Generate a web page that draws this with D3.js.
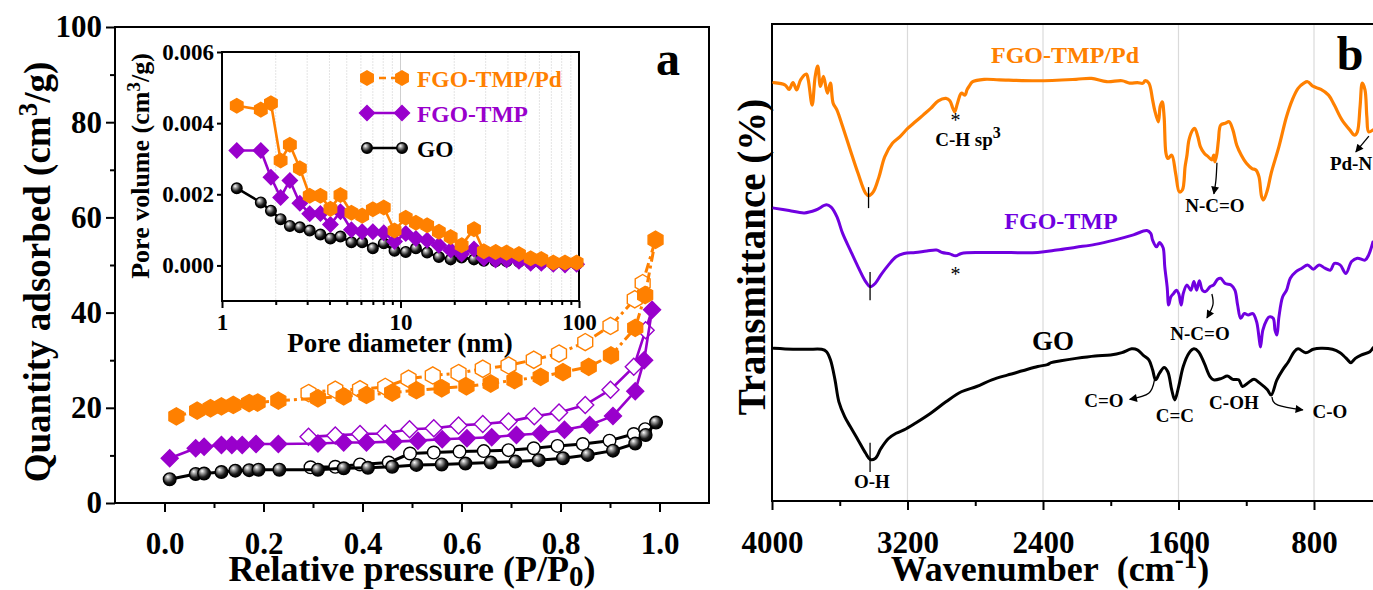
<!DOCTYPE html>
<html>
<head>
<meta charset="utf-8">
<title>FGO-TMP/Pd: N2 isotherms and FTIR spectra</title>
<script src="https://cdn.jsdelivr.net/npm/d3@7/dist/d3.min.js"></script>
<style>
  html, body { margin: 0; padding: 0; background: #fff; }
  svg text { font-family: "Liberation Serif", "Times New Roman", serif; font-weight: bold; }
</style>
</head>
<body>
<svg id="fig" width="1373" height="590"></svg>
<script>
// ---------------- (a) N2 adsorption-desorption isotherms ----------------
const pressureTicks = [0.0, 0.2, 0.4, 0.6, 0.8, 1.0];
const pressureMinorTicks = [0.1, 0.3, 0.5, 0.7, 0.9];
const quantityTicks = [0, 20, 40, 60, 80, 100];
const quantityMinorTicks = [10, 30, 50, 70, 90];

const adsPdP = [0.024, 0.066, 0.093, 0.115, 0.139, 0.171, 0.188, 0.230, 0.310, 0.362, 0.408, 0.460, 0.509, 0.560, 0.610, 0.659, 0.707, 0.760, 0.805, 0.857, 0.902, 0.951, 0.971, 0.992];
const adsPdQ = [18.2, 19.4, 19.9, 20.3, 20.6, 21.0, 21.1, 21.5, 22.0, 22.4, 22.7, 23.2, 23.7, 24.1, 24.5, 25.1, 25.8, 26.5, 27.5, 28.6, 31.0, 36.8, 43.7, 55.3];
const desPdP = [0.291, 0.345, 0.395, 0.446, 0.493, 0.542, 0.594, 0.643, 0.695, 0.746, 0.797, 0.850, 0.901, 0.950, 0.966];
const desPdQ = [23.1, 23.8, 23.9, 24.4, 26.1, 26.8, 27.3, 28.2, 28.9, 30.1, 31.4, 33.8, 37.2, 42.8, 46.2];

const adsTmpP = [0.0105, 0.063, 0.080, 0.115, 0.136, 0.157, 0.185, 0.230, 0.310, 0.362, 0.408, 0.463, 0.512, 0.561, 0.611, 0.661, 0.711, 0.760, 0.808, 0.859, 0.906, 0.951, 0.969, 0.985];
const adsTmpQ = [9.4, 11.5, 11.8, 12.2, 12.2, 12.2, 12.4, 12.4, 12.5, 12.7, 12.7, 12.9, 13.1, 13.4, 13.6, 13.8, 14.3, 14.6, 15.4, 16.4, 18.3, 23.5, 30.0, 40.6];
const desTmpP = [0.291, 0.345, 0.395, 0.446, 0.495, 0.544, 0.594, 0.643, 0.695, 0.747, 0.797, 0.850, 0.901, 0.948, 0.972];
const desTmpQ = [13.9, 14.2, 14.5, 14.6, 15.5, 15.7, 16.3, 16.6, 17.1, 18.2, 19.0, 20.6, 23.8, 28.6, 36.3];

const adsGoP = [0.0105, 0.063, 0.080, 0.115, 0.143, 0.171, 0.190, 0.232, 0.310, 0.362, 0.411, 0.460, 0.509, 0.560, 0.608, 0.659, 0.709, 0.756, 0.805, 0.855, 0.906, 0.951, 0.972, 0.993];
const adsGoQ = [5.0, 6.1, 6.2, 6.5, 6.8, 6.9, 7.0, 7.0, 7.0, 7.3, 7.4, 7.6, 8.0, 8.1, 8.3, 8.5, 8.7, 9.0, 9.4, 10.1, 11.0, 12.5, 14.3, 16.9];
const desGoP = [0.295, 0.345, 0.395, 0.453, 0.496, 0.544, 0.596, 0.645, 0.695, 0.746, 0.794, 0.845, 0.899, 0.948, 0.971];
const desGoQ = [7.5, 7.6, 8.1, 8.5, 10.4, 10.6, 10.8, 10.9, 11.1, 11.5, 12.0, 12.4, 13.1, 14.5, 15.5];

// ---------------- inset: pore size distribution ----------------
const poreDiameter = [1.21, 1.65, 1.88, 2.13, 2.40, 2.73, 3.10, 3.56, 4.05, 4.61, 5.31, 6.10, 7.00, 8.06, 9.26, 10.7, 12.2, 14.1, 16.4, 19.1, 22.0, 25.8, 29.3, 34.1, 39.3, 46.1, 53.6, 61.5, 71.8, 83.5, 97.0];
const poreVolPd = [0.00449, 0.00438, 0.00456, 0.00295, 0.00339, 0.00273, 0.00196, 0.00196, 0.00159, 0.00198, 0.00148, 0.00140, 0.00158, 0.00163, 0.00098, 0.00134, 0.00120, 0.00113, 0.00095, 0.00080, 0.00057, 0.00102, 0.00040, 0.00038, 0.00036, 0.00032, 0.00020, 0.00018, 0.00008, 0.00008, 0.00008];
const poreVolTmp = [0.00323, 0.00323, 0.00248, 0.00191, 0.00239, 0.00175, 0.00145, 0.00146, 0.00115, 0.00151, 0.00100, 0.00095, 0.00095, 0.00092, 0.00067, 0.00090, 0.00076, 0.00071, 0.00057, 0.00043, 0.00032, 0.00046, 0.00020, 0.00015, 0.00015, 0.00012, 0.00006, 0.00006, 0.00003, 0.00001, 0.00003];
const poreVolGo = [0.00217, 0.00177, 0.00154, 0.00130, 0.00111, 0.00107, 0.00098, 0.00087, 0.00076, 0.00081, 0.00065, 0.00065, 0.00048, 0.00062, 0.00041, 0.00038, 0.00048, 0.00036, 0.00024, 0.00017, 0.00022, 0.00017, 0.00013, 0.00012, 0.00012, 0.00010, 0.00006, 0.00006, 0.00003, 0.00003, 0.00003];
const poreVolTicks = [0.000, 0.002, 0.004, 0.006];
const poreDiamTicks = [1, 10, 100];
const poreDiamMinorTicks = [2, 3, 4, 5, 6, 7, 8, 9, 20, 30, 40, 50, 60, 70, 80, 90];
const seriesNames = ["FGO-TMP/Pd", "FGO-TMP", "GO"];

// ---------------- (b) FTIR spectra ----------------
const wavenumberTicks = [4000, 3200, 2400, 1600, 800];
const wavenumberMinorTicks = [3600, 2800, 2000, 1200];

const pdWave = [3989, 3922, 3899, 3876, 3854, 3831, 3797, 3786, 3763, 3745, 3730, 3714, 3696, 3673, 3655, 3639, 3617, 3583, 3538, 3492, 3447, 3429, 3402, 3368, 3334, 3289, 3244, 3199, 3154, 3108, 3063, 3018, 2973, 2950, 2932, 2921, 2905, 2882, 2860, 2849, 2837, 2815, 2747, 2657, 2431, 2205, 2114, 2024, 1934, 1888, 1843, 1809, 1798, 1775, 1753, 1741, 1719, 1708, 1696, 1685, 1674, 1663, 1640, 1617, 1595, 1577, 1561, 1550, 1538, 1516, 1504, 1486, 1471, 1448, 1425, 1403, 1392, 1385, 1373, 1364, 1351, 1324, 1301, 1279, 1256, 1229, 1199, 1166, 1143, 1125, 1109, 1098, 1075, 1053, 1007, 962, 928, 894, 860, 838, 804, 759, 714, 680, 635, 589, 560, 544, 528, 515, 499, 488, 477, 452];
const pdTrans = [87.7, 87.2, 86.3, 87.7, 86.2, 88.3, 89.5, 88.3, 83.0, 89.0, 91.2, 86.9, 89.0, 85.5, 87.6, 83.4, 82.0, 78.5, 73.6, 68.7, 64.5, 64.0, 64.8, 68.0, 72.2, 75.0, 76.4, 78.1, 79.5, 80.9, 82.3, 83.9, 84.4, 83.9, 82.3, 81.6, 83.4, 85.5, 85.1, 86.2, 86.9, 87.9, 88.4, 88.3, 88.1, 88.4, 88.6, 87.9, 88.1, 87.6, 87.7, 87.6, 88.1, 87.6, 84.1, 82.0, 79.5, 82.7, 83.7, 80.6, 72.9, 71.8, 72.5, 68.7, 64.8, 65.2, 70.1, 72.5, 75.7, 77.8, 78.1, 76.4, 74.3, 72.9, 72.2, 71.5, 72.5, 71.1, 72.9, 75.7, 78.8, 79.2, 79.5, 77.8, 74.6, 72.5, 70.8, 69.7, 69.4, 68.0, 63.8, 63.1, 65.2, 68.7, 74.3, 80.6, 84.1, 86.5, 87.6, 87.9, 86.9, 86.3, 85.1, 83.0, 79.9, 77.8, 76.7, 77.4, 82.7, 87.6, 86.2, 80.6, 77.4, 77.8];

const tmpWave = [3989, 3899, 3809, 3741, 3678, 3651, 3617, 3583, 3538, 3492, 3447, 3420, 3391, 3357, 3312, 3267, 3221, 3154, 3086, 3029, 2995, 2950, 2916, 2882, 2770, 2657, 2431, 2318, 2205, 2092, 1979, 1866, 1787, 1764, 1753, 1730, 1712, 1703, 1690, 1681, 1667, 1658, 1645, 1629, 1613, 1599, 1584, 1572, 1550, 1527, 1509, 1493, 1477, 1459, 1441, 1414, 1392, 1369, 1351, 1324, 1290, 1267, 1251, 1233, 1211, 1188, 1161, 1139, 1125, 1116, 1102, 1080, 1064, 1041, 1030, 1019, 1007, 985, 962, 940, 906, 872, 838, 804, 770, 736, 703, 680, 646, 612, 578, 544, 499, 477, 452];
const tmpTrans = [61.4, 60.9, 60.4, 61.0, 62.1, 61.6, 59.6, 56.1, 52.6, 49.1, 46.0, 44.9, 45.6, 47.4, 49.5, 51.2, 51.9, 52.1, 52.4, 52.6, 52.1, 51.8, 51.4, 51.9, 52.1, 52.1, 52.1, 52.6, 53.2, 53.8, 54.7, 55.8, 56.7, 56.1, 54.7, 53.3, 54.2, 53.9, 53.0, 49.1, 44.9, 41.1, 42.8, 43.5, 44.2, 43.5, 41.1, 43.5, 45.3, 44.2, 46.0, 44.2, 46.2, 44.2, 43.9, 44.9, 45.3, 46.5, 46.7, 45.6, 45.3, 44.2, 41.1, 38.3, 39.3, 39.0, 39.3, 37.6, 34.4, 32.3, 35.8, 37.9, 38.6, 38.3, 35.8, 34.8, 38.6, 42.8, 44.2, 46.7, 48.1, 48.8, 49.5, 48.6, 49.5, 48.8, 48.4, 49.8, 49.5, 47.7, 50.2, 50.9, 50.5, 51.6, 54.3];

const goWave = [3989, 3876, 3786, 3707, 3678, 3655, 3628, 3605, 3571, 3538, 3492, 3447, 3420, 3391, 3357, 3312, 3267, 3221, 3154, 3063, 2973, 2882, 2792, 2702, 2611, 2521, 2431, 2374, 2352, 2295, 2205, 2092, 2001, 1934, 1877, 1843, 1809, 1775, 1753, 1735, 1712, 1685, 1663, 1640, 1622, 1599, 1572, 1538, 1509, 1482, 1448, 1414, 1392, 1346, 1312, 1279, 1245, 1222, 1188, 1154, 1120, 1075, 1053, 1019, 985, 951, 917, 894, 849, 804, 759, 691, 646, 624, 601, 583, 556, 522, 470, 452];
const goTrans = [32.0, 31.8, 31.8, 31.8, 31.3, 29.6, 25.4, 20.8, 17.7, 15.6, 12.8, 10.0, 8.7, 8.9, 11.0, 13.1, 14.2, 14.9, 16.3, 18.4, 20.8, 22.9, 24.0, 25.4, 26.4, 27.3, 28.2, 28.6, 29.0, 29.4, 29.9, 30.4, 30.6, 31.1, 31.9, 31.7, 30.6, 29.6, 27.5, 25.4, 26.8, 28.0, 27.1, 23.3, 21.2, 24.0, 28.2, 31.0, 31.9, 31.3, 28.9, 26.1, 25.4, 25.7, 26.2, 25.5, 25.4, 24.0, 24.8, 25.5, 24.7, 23.3, 22.2, 25.4, 27.5, 29.2, 31.3, 31.9, 31.1, 31.8, 32.0, 31.8, 31.1, 30.4, 29.6, 29.0, 29.9, 30.6, 31.3, 32.1];

// ---------------- drawing ----------------
const svg = d3.select("#fig");
const COL = { pd: "#ff8000", tmp: "#9900cc", tmpIR: "#7000e0", go: "#000000" };
const defs = svg.append("defs");

const ball = defs.append("radialGradient").attr("id", "ball")
  .attr("cx", "40%").attr("cy", "38%").attr("r", "62%").attr("fx", "34%").attr("fy", "30%");
ball.append("stop").attr("offset", "0%").attr("stop-color", "#ffffff");
ball.append("stop").attr("offset", "28%").attr("stop-color", "#a0a0a0");
ball.append("stop").attr("offset", "70%").attr("stop-color", "#1c1c1c");
ball.append("stop").attr("offset", "100%").attr("stop-color", "#000000");

defs.append("marker").attr("id", "arrowHead")
  .attr("viewBox", "0 0 10 10").attr("refX", 9).attr("refY", 5)
  .attr("markerUnits", "userSpaceOnUse").attr("markerWidth", 11).attr("markerHeight", 8)
  .attr("orient", "auto")
  .append("path").attr("d", "M0,0L10,5L0,10Z").attr("fill", "#000");

const hexPath = r => d3.line()(d3.range(6).map(i => {
  const a = Math.PI / 180 * (60 * i - 90);
  return [r * Math.cos(a), r * Math.sin(a)];
})) + "Z";
const diamondPath = r => `M0,${-r}L${r},0L0,${r}L${-r},0Z`;

function markerShape(sel, kind, size, filled, color) {
  if (kind === "hex") {
    sel.append("path").attr("d", hexPath(size))
      .attr("fill", filled ? color : "#fff").attr("stroke", color).attr("stroke-width", 1.4);
  } else if (kind === "diamond") {
    sel.append("path").attr("d", diamondPath(size))
      .attr("fill", filled ? color : "#fff").attr("stroke", color).attr("stroke-width", 1.4);
  } else {
    sel.append("circle").attr("r", size)
      .attr("fill", filled ? "url(#ball)" : "#fff").attr("stroke", "#000").attr("stroke-width", 1.4);
  }
}

function drawSeries(g, xs, ys, opt) {
  const pts = xs.map((x, i) => [opt.x(x), opt.y(ys[i])]);
  const linePts = opt.extra ? pts.concat([opt.extra]) : pts;
  g.append("path").attr("d", d3.line()(linePts))
    .attr("fill", "none").attr("stroke", opt.color).attr("stroke-width", opt.lw)
    .attr("stroke-dasharray", opt.dash || null).attr("stroke-linejoin", "round");
  g.selectAll(null).data(pts).enter().append("g")
    .attr("transform", d => `translate(${d[0]},${d[1]})`)
    .each(function () { markerShape(d3.select(this), opt.kind, opt.size, opt.filled, opt.color); });
}

function styleAxis(g, size) {
  g.select(".domain").remove();
  g.selectAll(".tick line").attr("stroke", "#000").attr("stroke-width", 2);
  g.selectAll(".tick text").attr("fill", "#000").attr("font-size", size);
}

// ===== panel (a) =====
const xP = d3.scaleLinear().domain([-0.1, 1.1]).range([115, 709]);
const yQ = d3.scaleLinear().domain([0, 100]).range([503, 27]);
const gA = svg.append("g");

gA.append("g").attr("transform", `translate(0,${yQ(0)})`)
  .call(d3.axisBottom(xP).tickValues(pressureMinorTicks).tickSize(5).tickFormat(""))
  .call(g => styleAxis(g, 30));
gA.append("g").attr("transform", `translate(0,${yQ(0)})`)
  .call(d3.axisBottom(xP).tickValues(pressureTicks).tickSize(9).tickPadding(20).tickFormat(d3.format(".1f")))
  .call(g => styleAxis(g, 31));
gA.append("g").attr("transform", `translate(${xP(-0.1)},0)`)
  .call(d3.axisLeft(yQ).tickValues(quantityMinorTicks).tickSize(5).tickFormat(""))
  .call(g => styleAxis(g, 30));
gA.append("g").attr("transform", `translate(${xP(-0.1)},0)`)
  .call(d3.axisLeft(yQ).tickValues(quantityTicks).tickSize(9).tickPadding(4))
  .call(g => styleAxis(g, 31));
gA.append("rect").attr("x", xP(-0.1)).attr("y", yQ(100))
  .attr("width", xP(1.1) - xP(-0.1)).attr("height", yQ(0) - yQ(100))
  .attr("fill", "none").attr("stroke", "#000").attr("stroke-width", 2);

// isotherm branches: desorption (open) under adsorption (filled)
const isoSets = [
  { ap: adsGoP, aq: adsGoQ, dp: desGoP, dq: desGoQ, color: COL.go, kind: "ball", size: 6.3, lw: 3 },
  { ap: adsTmpP, aq: adsTmpQ, dp: desTmpP, dq: desTmpQ, color: COL.tmp, kind: "diamond", size: 8.5, lw: 2.6 },
  { ap: adsPdP, aq: adsPdQ, dp: desPdP, dq: desPdQ, color: COL.pd, kind: "hex", size: 8.6, lw: 3, dash: "10,4,3,4" }
];
isoSets.forEach(s => {
  const top = [xP(s.ap[s.ap.length - 1]), yQ(s.aq[s.aq.length - 1])];
  drawSeries(gA, s.dp, s.dq, { x: xP, y: yQ, color: s.color, kind: s.kind, size: s.size, filled: false, lw: s.lw, dash: s.dash, extra: top });
});
isoSets.forEach(s => {
  drawSeries(gA, s.ap, s.aq, { x: xP, y: yQ, color: s.color, kind: s.kind, size: s.size, filled: true, lw: s.lw, dash: s.dash });
});

// axis titles (a)
gA.append("text").attr("transform", "translate(50,272) rotate(-90)").attr("text-anchor", "middle")
  .attr("font-size", 37)
  .call(t => {
    t.append("tspan").text("Quantity adsorbed (cm");
    t.append("tspan").attr("dy", -13).attr("font-size", 27).text("3");
    t.append("tspan").attr("dy", 13).text("/g)");
  });
gA.append("text").attr("x", 412).attr("y", 581).attr("text-anchor", "middle").attr("font-size", 36)
  .call(t => {
    t.append("tspan").text("Relative pressure (P/P");
    t.append("tspan").attr("dy", 5).attr("font-size", 29).text("0");
    t.append("tspan").attr("dy", -5).text(")");
  });
gA.append("text").attr("x", 668).attr("y", 75).attr("text-anchor", "middle").attr("font-size", 48).text("a");

// ===== inset =====
const xD = d3.scaleLog().domain([1, 100]).range([222, 579]);
const yV = d3.scaleLinear().domain([-0.001, 0.006]).range([301, 52]);
const gI = svg.append("g");
gI.append("rect").attr("x", xD(1)).attr("y", yV(0.006)).attr("width", xD(100) - xD(1))
  .attr("height", yV(-0.001) - yV(0.006)).attr("fill", "#fff");
gI.selectAll(null).data(poreDiamMinorTicks).enter().append("line")
  .attr("x1", d => xD(d)).attr("x2", d => xD(d)).attr("y1", yV(0.006)).attr("y2", yV(-0.001))
  .attr("stroke", "#e4e4e4").attr("stroke-width", 1).attr("stroke-dasharray", "2,1");
gI.append("line").attr("x1", xD(10)).attr("x2", xD(10)).attr("y1", yV(0.006)).attr("y2", yV(-0.001))
  .attr("stroke", "#cfcfcf").attr("stroke-width", 1);

gI.append("g").attr("transform", `translate(0,${yV(-0.001)})`)
  .call(d3.axisBottom(xD).tickValues(poreDiamMinorTicks).tickSize(4).tickFormat(""))
  .call(g => styleAxis(g, 23));
gI.append("g").attr("transform", `translate(0,${yV(-0.001)})`)
  .call(d3.axisBottom(xD).tickValues(poreDiamTicks).tickSize(7).tickPadding(6).tickFormat(d3.format("d")))
  .call(g => styleAxis(g, 23));
gI.append("g").attr("transform", `translate(${xD(1)},0)`)
  .call(d3.axisLeft(yV).tickValues(poreVolTicks).tickSize(5).tickPadding(3).tickFormat(d3.format(".3f")))
  .call(g => styleAxis(g, 23));
gI.append("rect").attr("x", xD(1)).attr("y", yV(0.006)).attr("width", xD(100) - xD(1))
  .attr("height", yV(-0.001) - yV(0.006)).attr("fill", "none").attr("stroke", "#000").attr("stroke-width", 2);

const poreSets = [
  { v: poreVolGo, color: COL.go, kind: "ball", size: 5.3 },
  { v: poreVolTmp, color: COL.tmp, kind: "diamond", size: 7.5 },
  { v: poreVolPd, color: COL.pd, kind: "hex", size: 7.2 }
];
poreSets.forEach(s => drawSeries(gI, poreDiameter, s.v,
  { x: xD, y: yV, color: s.color, kind: s.kind, size: s.size, filled: true, lw: 2.6 }));

// inset legend
const legendRows = [
  { name: seriesNames[0], color: COL.pd, kind: "hex", size: 7.2, dash: "7,5" },
  { name: seriesNames[1], color: COL.tmp, kind: "diamond", size: 7.5 },
  { name: seriesNames[2], color: COL.go, kind: "ball", size: 5.3 }
];
legendRows.forEach((r, i) => {
  const cy = 78 + i * 35;
  const lg = gI.append("g").attr("transform", `translate(0,${cy})`);
  lg.append("line").attr("x1", 367).attr("x2", 402).attr("y1", 0).attr("y2", 0)
    .attr("stroke", r.color).attr("stroke-width", 2.6).attr("stroke-dasharray", r.dash || null);
  [367, 402].forEach(x => markerShape(lg.append("g").attr("transform", `translate(${x},0)`), r.kind, r.size, true, r.color));
  lg.append("text").attr("x", 417).attr("y", 8.5).attr("font-size", 23.5).attr("fill", r.color).text(r.name);
});

gI.append("text").attr("transform", "translate(149,166) rotate(-90)").attr("text-anchor", "middle")
  .attr("font-size", 26)
  .call(t => {
    t.append("tspan").text("Pore volume (cm");
    t.append("tspan").attr("dy", -9).attr("font-size", 19).text("3");
    t.append("tspan").attr("dy", 9).text("/g)");
  });
gI.append("text").attr("x", 400).attr("y", 352).attr("text-anchor", "middle").attr("font-size", 27)
  .text("Pore diameter (nm)");

// ===== panel (b) =====
const xW = d3.scaleLinear().domain([4000, 450]).range([772, 772 + 3550 * 135.5 / 800]);
const yT = d3.scaleLinear().domain([0, 100]).range([501, 24]);
const gB = svg.append("g");

gB.selectAll(null).data(wavenumberTicks.slice(1)).enter().append("line")
  .attr("x1", d => xW(d)).attr("x2", d => xW(d)).attr("y1", yT(100)).attr("y2", yT(0))
  .attr("stroke", "#dadada").attr("stroke-width", 1.2);

gB.append("g").attr("transform", `translate(0,${yT(0)})`)
  .call(d3.axisBottom(xW).tickValues(wavenumberMinorTicks).tickSize(5).tickFormat(""))
  .call(g => styleAxis(g, 30));
gB.append("g").attr("transform", `translate(0,${yT(0)})`)
  .call(d3.axisBottom(xW).tickValues(wavenumberTicks).tickSize(9).tickPadding(21).tickFormat(d3.format("d")))
  .call(g => styleAxis(g, 31));
const x0 = xW(4000), x1 = xW(450);
gB.append("path").attr("d", `M${x1},${yT(100)}H${x0}V${yT(0)}H${x1}`)
  .attr("fill", "none").attr("stroke", "#000").attr("stroke-width", 2);

const specLine = d3.line().x(d => xW(d[0])).y(d => yT(d[1])).curve(d3.curveCatmullRom.alpha(0.5));
const spectra = [
  { w: goWave, t: goTrans, color: COL.go, lw: 3 },
  { w: tmpWave, t: tmpTrans, color: COL.tmpIR, lw: 3 },
  { w: pdWave, t: pdTrans, color: COL.pd, lw: 3.2 }
];
spectra.forEach(s => {
  gB.append("path").attr("d", specLine(s.w.map((w, i) => [w, s.t[i]])))
    .attr("fill", "none").attr("stroke", s.color).attr("stroke-width", s.lw)
    .attr("stroke-linejoin", "round").attr("stroke-linecap", "round");
});

// O-H band markers
const ohMarks = [[3430, 65.8, 61.4], [3421, 48.0, 42.1], [3421, 12.2, 6.1]];
gB.selectAll(null).data(ohMarks).enter().append("line")
  .attr("x1", d => xW(d[0])).attr("x2", d => xW(d[0])).attr("y1", d => yT(d[1])).attr("y2", d => yT(d[2]))
  .attr("stroke", "#000").attr("stroke-width", 1.3);

// band assignment arrows
const arrows = [
  [[1373, 70.9], [1379, 67.3], [1391, 64.4]],
  [[1403, 43.4], [1397, 41.1], [1432, 38.4]],
  [[476, 76.5], [553, 73.2]],
  [[1742, 25.4], [1776, 22.6], [1888, 21.3]],
  [[1048, 21.8], [1013, 20.1], [866, 19.1]]
];
const arrowLine = d3.line().x(d => xW(d[0])).y(d => yT(d[1])).curve(d3.curveNatural);
arrows.forEach(a => gB.append("path").attr("d", arrowLine(a))
  .attr("fill", "none").attr("stroke", "#000").attr("stroke-width", 1.3).attr("marker-end", "url(#arrowHead)"));

// spectrum names and band labels
const labels = [
  { t: "FGO-TMP/Pd", w: 2270, v: 91.8, size: 24, color: COL.pd },
  { t: "FGO-TMP", w: 2294, v: 57.0, size: 24, color: COL.tmpIR },
  { t: "GO", w: 2341, v: 31.6, size: 27, color: "#000" },
  { t: "N-C=O", w: 1385, v: 60.6, size: 19, color: "#000" },
  { t: "N-C=O", w: 1473, v: 33.8, size: 19, color: "#000" },
  { t: "Pd-N", w: 706, v: 69.4, size: 19, color: "#000", anchor: "start" },
  { t: "C=O", w: 2040, v: 19.7, size: 19, color: "#000" },
  { t: "C=C", w: 1621, v: 16.6, size: 19, color: "#000" },
  { t: "C-OH", w: 1273, v: 19.3, size: 19, color: "#000" },
  { t: "C-O", w: 706, v: 17.4, size: 19, color: "#000" },
  { t: "O-H", w: 3410, v: 2.7, size: 19, color: "#000" }
];
labels.forEach(l => gB.append("text").attr("x", xW(l.w)).attr("y", yT(l.v))
  .attr("text-anchor", l.anchor || "middle").attr("font-size", l.size).attr("fill", l.color).text(l.t));

gB.append("text").attr("x", xW(2843)).attr("y", yT(74.4)).attr("text-anchor", "middle").attr("font-size", 19)
  .call(t => {
    t.append("tspan").text("C-H sp");
    t.append("tspan").attr("dy", -8).attr("font-size", 16).text("3");
  });
const stars = [[2916, 78.4], [2916, 46.1]];
gB.selectAll(null).data(stars).enter().append("text")
  .attr("x", d => xW(d[0])).attr("y", d => yT(d[1])).attr("text-anchor", "middle")
  .attr("font-size", 20).style("font-weight", "normal").text("*");

gB.append("text").attr("transform", "translate(765,257) rotate(-90)").attr("text-anchor", "middle")
  .attr("font-size", 39).text("Transmittance (%)");
gB.append("text").attr("x", 1050).attr("y", 581).attr("text-anchor", "middle").attr("font-size", 36)
  .call(t => {
    t.append("tspan").text("Wavenumber\u00a0 (cm");
    t.append("tspan").attr("dy", -13).attr("font-size", 27).text("-1");
    t.append("tspan").attr("dy", 13).text(")");
  });
gB.append("text").attr("x", 1350).attr("y", 70).attr("text-anchor", "middle").attr("font-size", 48).text("b");
</script>
</body>
</html>
